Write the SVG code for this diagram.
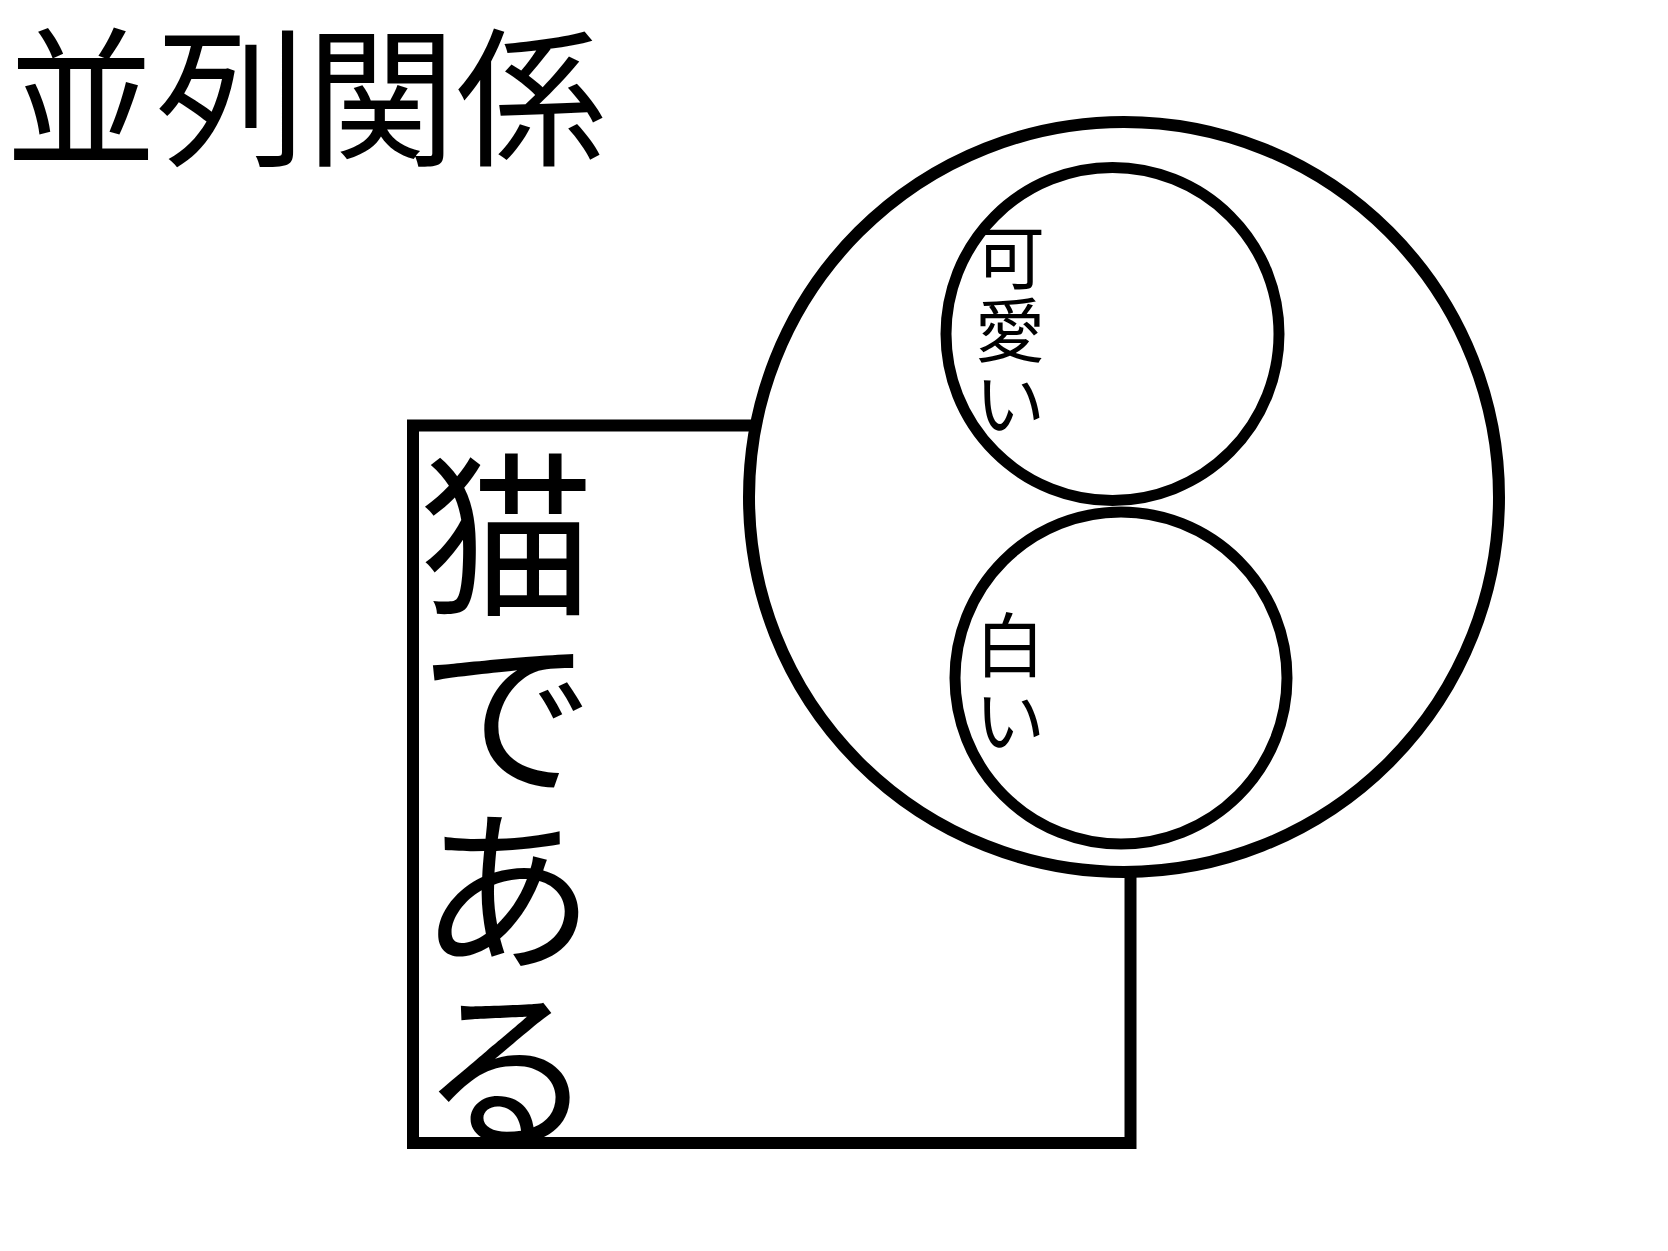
<svg xmlns="http://www.w3.org/2000/svg" width="1668" height="1251" viewBox="0 0 1668 1251">
<style>
.ln{fill:#fff;stroke:#000}
.t{font-family:"Noto Sans CJK JP","Noto Sans CJK SC",sans-serif;fill:#000;text-anchor:middle}
.big{font-size:176px}
.sm{font-size:70px}
</style>
<rect width="1668" height="1251" fill="#fff"/>
<g id="title">
<text class="t" font-size="150" style="text-anchor:start" x="6" y="154">並列関係</text>
</g>
<g id="connectors"></g>
<g id="node-cat">
<rect class="ln" x="413" y="425.5" width="717.5" height="717.5" stroke-width="12"/>
<text class="t big" x="507" y="602">猫</text>
<text class="t big" x="507" y="781">で</text>
<text class="t big" x="507" y="957">あ</text>
<text class="t big" x="507" y="1136">る</text>
</g>
<g id="node-big">
<circle class="ln" cx="1124" cy="497" r="375" stroke-width="12"/>
</g>
<g id="node-kawaii">
<circle class="ln" cx="1112.5" cy="334" r="166.5" stroke-width="11"/>
<text class="t sm" x="1010" y="284">可</text>
<text class="t sm" x="1010" y="357">愛</text>
<text class="t sm" x="1010" y="430">い</text>
</g>
<g id="node-shiroi">
<circle class="ln" cx="1121" cy="678" r="166" stroke-width="11"/>
<text class="t sm" x="1010" y="672">白</text>
<text class="t sm" x="1010" y="747">い</text>
</g>
</svg>
